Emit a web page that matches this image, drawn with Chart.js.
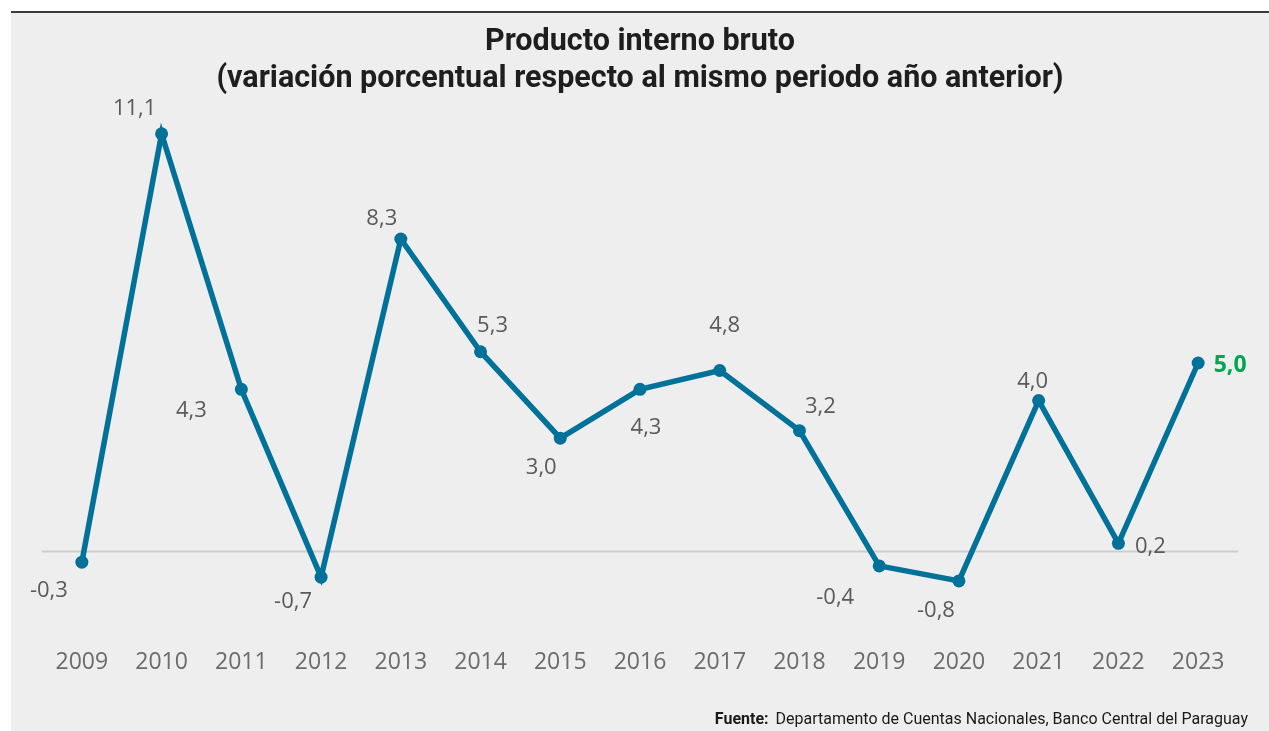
<!DOCTYPE html>
<html>
<head>
<meta charset="utf-8">
<script src="https://cdn.jsdelivr.net/npm/chart.js@4/dist/chart.umd.min.js"></script>
<style>
    html, body { margin: 0; padding: 0; background: #fff; }
    #box {
        position: absolute; left: 11px; top: 11px;
        width: 1258px; height: 718px;
        background: #eeeeee;
        border-top: 2px solid #3a3a3a;
    }
    #pib { display: block; }
</style>
</head>
<body>
<div id="box"><canvas id="pib" width="1258" height="718"></canvas></div>
<script>
// Datos: PIB, variación % respecto al mismo periodo del año anterior
const years = ['2009', '2010', '2011', '2012', '2013', '2014', '2015', '2016',
               '2017', '2018', '2019', '2020', '2021', '2022', '2023'];
const growth = [-0.3, 11.1, 4.3, -0.7, 8.3, 5.3, 3.0, 4.3, 4.8, 3.2, -0.4, -0.8, 4.0, 0.2, 5.0];

const titleLines = ['Producto interno bruto', '(variación porcentual respecto al mismo periodo año anterior)'];
const sourceLabel = 'Fuente:';
const sourceText = 'Departamento de Cuentas Nacionales, Banco Central del Paraguay';

// where each value label sits relative to its point (px)
const labelShift = [
    [-33, 29], [-27, -25], [-50, 21], [-28, 25], [-19, -20], [12, -26], [-19, 30], [6, 38],
    [5, -45], [21, -24], [-44, 32], [-23, 30], [-6, -19], [32, 3], [32, 2]
];

const LINE = '#00729a';
const fmt = v => v.toFixed(1).replace('.', ',');

const zeroLine = {
    id: 'zeroLine',
    beforeDatasetsDraw(chart) {
        const { ctx, chartArea, scales } = chart;
        const y = Math.round(scales.y.getPixelForValue(0)) + 0.5;
        ctx.save();
        ctx.strokeStyle = '#cdcdcd';
        ctx.lineWidth = 2;
        ctx.beginPath();
        ctx.moveTo(chartArea.left, y);
        ctx.lineTo(chartArea.right, y);
        ctx.stroke();
        ctx.restore();
    }
};

const valueLabels = {
    id: 'valueLabels',
    afterDatasetsDraw(chart) {
        const ctx = chart.ctx;
        const pts = chart.getDatasetMeta(0).data;
        const last = pts.length - 1;
        ctx.save();
        ctx.textBaseline = 'middle';
        ctx.textAlign = 'center';
        pts.forEach((p, i) => {
            const [dx, dy] = labelShift[i];
            if (i === last) {
                ctx.font = 'bold 23px "Open Sans"';
                ctx.fillStyle = '#00a651';
            } else {
                ctx.font = '22px "Open Sans"';
                ctx.fillStyle = '#5a5a5a';
            }
            ctx.fillText(fmt(growth[i]), p.x + dx, p.y + dy);
        });
        ctx.restore();
    }
};

const source = {
    id: 'source',
    afterDraw(chart) {
        const ctx = chart.ctx;
        const right = chart.width - 21, y = 707;
        ctx.save();
        ctx.textBaseline = 'middle';
        ctx.textAlign = 'right';
        ctx.fillStyle = '#1a1a1a';
        ctx.font = '16px Roboto';
        ctx.fillText(sourceText, right, y);
        const w = ctx.measureText(sourceText).width;
        ctx.font = 'bold 16px Roboto';
        ctx.fillText(sourceLabel, right - w - 7, y);
        ctx.restore();
    }
};

new Chart(document.getElementById('pib'), {
    type: 'line',
    data: {
        labels: years,
        datasets: [{
            data: growth,
            borderColor: LINE,
            backgroundColor: LINE,
            borderWidth: 5.5,
            pointRadius: 6.5,
            pointBorderWidth: 0,
            pointBackgroundColor: LINE,
            tension: 0
        }]
    },
    options: {
        responsive: false,
        animation: false,
        events: [],
        layout: { padding: { left: 31, right: 31, top: 0, bottom: 0 } },
        plugins: {
            legend: { display: false },
            tooltip: { enabled: false },
            title: {
                display: true,
                text: titleLines,
                color: '#1e1e1e',
                font: { family: 'Roboto', size: 30.5, weight: 'bold', lineHeight: 1.213 },
                padding: { top: 11, bottom: 2 }
            }
        },
        scales: {
            x: {
                offset: true,
                grid: { display: false, drawTicks: false },
                border: { display: false },
                ticks: {
                    color: '#6b6b6b',
                    font: { family: '"Open Sans"', size: 23 },
                    padding: 23,
                    maxRotation: 0,
                    autoSkip: false
                },
                afterFit: s => { s.height = 105; }
            },
            y: {
                display: false,
                min: -2,
                max: 12
            }
        }
    },
    plugins: [zeroLine, valueLabels, source]
});
</script>
</body>
</html>
